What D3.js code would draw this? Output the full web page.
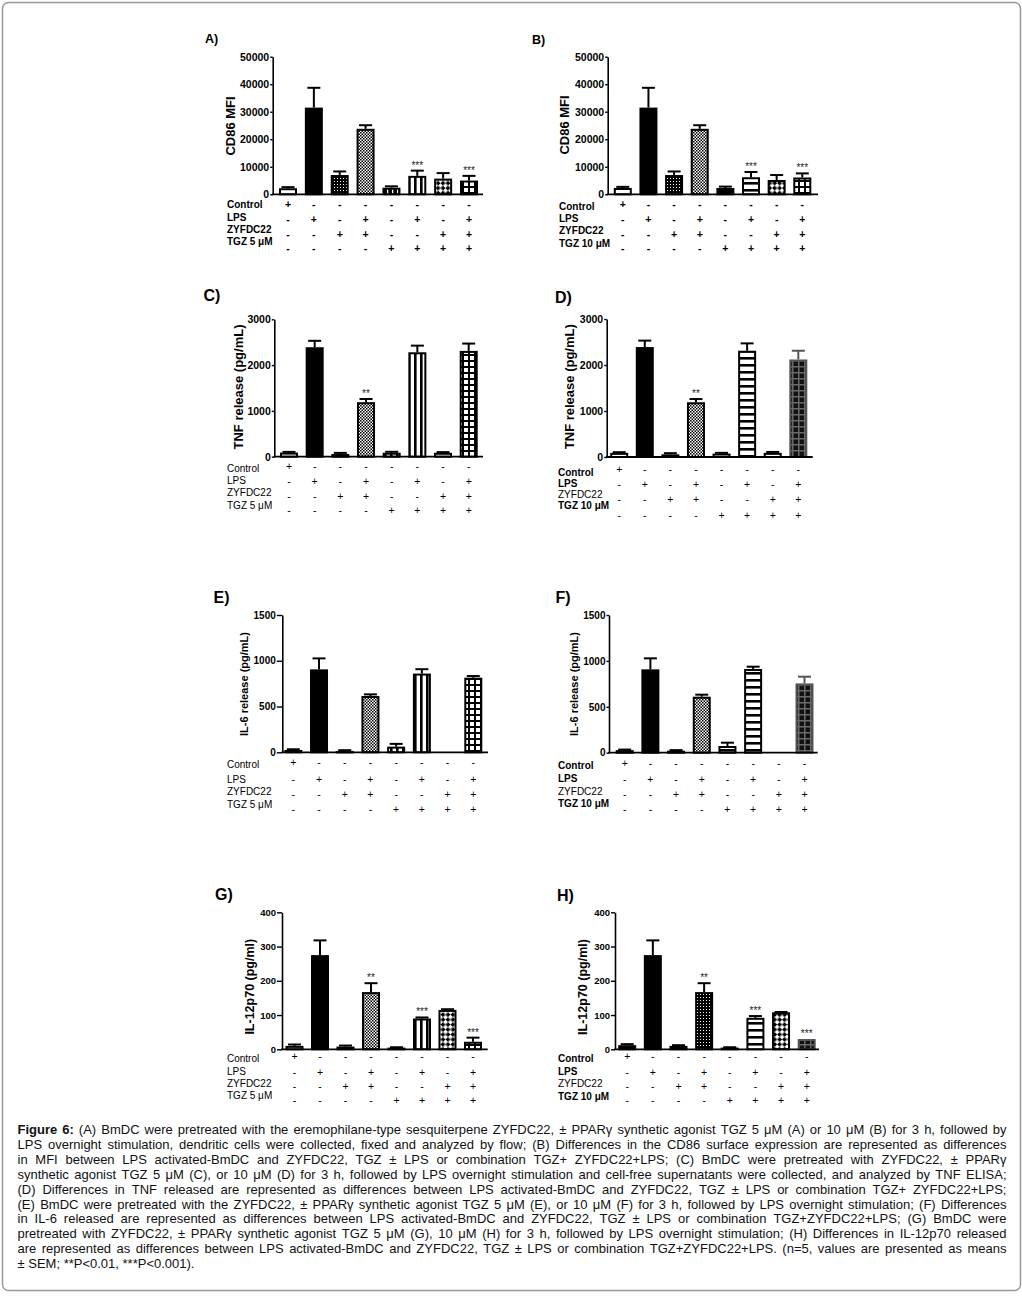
<!DOCTYPE html>
<html><head><meta charset="utf-8">
<script src="https://cdn.jsdelivr.net/npm/d3@7"></script>
<style>
html,body{margin:0;padding:0;background:#fff;}
svg{display:block;font-family:"Liberation Sans",Arial,sans-serif;}
</style></head>
<body>
<svg id="fig" width="1022" height="1297"></svg>
<script>
// ---------------- DATA ----------------
const rowNames = ["Control", "LPS", "ZYFDC22"];
const tgz5Label = "TGZ 5 μM";
const tgz10Label = "TGZ 10 μM";
const signControl = ["+", "-", "-", "-", "-", "-", "-", "-"];
const signLPS     = ["-", "+", "-", "+", "-", "+", "-", "+"];
const signZYFDC   = ["-", "-", "+", "+", "-", "-", "+", "+"];
const signTGZ     = ["-", "-", "-", "-", "+", "+", "+", "+"];

const cd86Ticks = [0, 10000, 20000, 30000, 40000, 50000];
const tnfTicks = [0, 1000, 2000, 3000];
const il6Ticks = [0, 500, 1000, 1500];
const il12Ticks = [0, 100, 200, 300, 400];

const cd86A_mean = [2200, 31500, 7000, 23800, 2400, 6700, 5700, 5000];
const cd86A_sem  = [400, 7200, 1300, 1300, 500, 1900, 2000, 1700];
const cd86A_stars = ["", "", "", "", "", "***", "", "***"];
const cd86B_mean = [2300, 31500, 7000, 23800, 2300, 6200, 5200, 6100];
const cd86B_sem  = [400, 7200, 1300, 1300, 500, 1900, 1800, 1500];
const cd86B_stars = ["", "", "", "", "", "***", "", "***"];

const tnfC_mean = [90, 2390, 58, 1190, 87, 2280, 85, 2310];
const tnfC_sem  = [15, 140, 25, 70, 20, 145, 15, 160];
const tnfC_stars = ["", "", "", "**", "", "", "", ""];
const tnfD_mean = [90, 2390, 58, 1190, 75, 2310, 90, 2120];
const tnfD_sem  = [15, 140, 25, 70, 15, 160, 20, 190];
const tnfD_stars = ["", "", "", "**", "", "", "", ""];

const il6E_mean = [25, 906, 15, 615, 62, 860, 0, 815];
const il6E_sem  = [8, 120, 8, 18, 30, 48, 0, 18];
const il6F_mean = [28, 908, 22, 610, 73, 912, 0, 755];
const il6F_sem  = [6, 120, 6, 22, 36, 25, 0, 73];
const il6_stars = ["", "", "", "", "", "", "", ""];

const il12G_mean = [10, 275, 8, 167, 5, 90, 115, 22];
const il12G_sem  = [4, 43, 3, 26, 1, 3, 2, 12];
const il12H_mean = [12, 275, 10, 167, 5, 92, 108, 30];
const il12H_sem  = [3, 43, 2, 26, 1, 5, 1, 0];
const il12_stars = ["", "", "", "**", "", "***", "", "***"];

const captionLines = [
 "Figure 6: (A) BmDC were pretreated with the eremophilane-type sesquiterpene ZYFDC22, ± PPARγ synthetic agonist TGZ 5 μM (A) or 10 μM (B) for 3 h, followed by",
 "LPS overnight stimulation, dendritic cells were collected, fixed and analyzed by flow; (B) Differences in the CD86 surface expression are represented as differences",
 "in MFI between LPS activated-BmDC and ZYFDC22, TGZ ± LPS or combination TGZ+ ZYFDC22+LPS; (C) BmDC were pretreated with ZYFDC22, ± PPARγ",
 "synthetic agonist TGZ 5 μM (C), or 10 μM (D) for 3 h, followed by LPS overnight stimulation and cell-free supernatants were collected, and analyzed by TNF ELISA;",
 "(D) Differences in TNF released are represented as differences between LPS activated-BmDC and ZYFDC22, TGZ ± LPS or combination TGZ+ ZYFDC22+LPS;",
 "(E) BmDC were pretreated with the ZYFDC22, ± PPARγ synthetic agonist TGZ 5 μM (E), or 10 μM (F) for 3 h, followed by LPS overnight stimulation; (F) Differences",
 "in IL-6 released are represented as differences between LPS activated-BmDC and ZYFDC22, TGZ ± LPS or combination TGZ+ZYFDC22+LPS; (G) BmDC were",
 "pretreated with ZYFDC22, ± PPARγ synthetic agonist TGZ 5 μM (G), 10 μM (H) for 3 h, followed by LPS overnight stimulation; (H) Differences in IL-12p70 released",
 "are represented as differences between LPS activated-BmDC and ZYFDC22, TGZ ± LPS or combination TGZ+ZYFDC22+LPS. (n=5, values are presented as means",
 "± SEM; **P<0.01, ***P<0.001)."
];

// ---------------- STYLE / LAYOUT ----------------
const fillsA = ["white", "black", "dots", "fineCheck", "darkVert", "vStripes", "bigCheck", "grid"];
const fillsB = ["white", "black", "dots", "fineCheck", "black", "hStripes", "bigCheck", "grid"];
const fillsC = ["white", "black", "white", "fineCheck", "vStripes", "vStripes", "white", "grid"];
const fillsD = ["white", "black", "white", "fineCheck", "white", "hStripes", "white", "grayGrid"];
const fillsE = ["white", "black", "black", "fineCheck", "vStripes", "vStripes", "white", "grid"];
const fillsF = ["white", "black", "black", "fineCheck", "hStripes", "hStripes", "white", "grayGrid"];
const fillsG = ["white", "black", "white", "fineCheck", "black", "vStripes", "bigCheck", "grid"];
const fillsH = ["black", "black", "black", "dots", "black", "hStripes", "bigCheck", "grayGrid"];

const panels = [
 {letter:"A)", lx:205, ly:43, ls:12.5, axisX:272.7, y0:194.3, yTop:56.7, axisEnd:483, c1:288, c8:469,
  title:"CD86 MFI", tx:230.5, ty:126, tsz:13, tickSz:10.5, tickLen:2.5, max:50000, ticks:cd86Ticks,
  mean:cd86A_mean, sem:cd86A_sem, stars:cd86A_stars, fills:fillsA, tgz:tgz5Label,
  labX:227, labDy:[10.5,23,35,47.5], sgnDy:[10,25,40,54.5], labW:["bold","bold","bold","bold"], sgnW:"bold"},
 {letter:"B)", lx:532, ly:44, ls:12.5, axisX:607.7, y0:194.3, yTop:56.7, axisEnd:818, c1:622.8, c8:802.3,
  title:"CD86 MFI", tx:564.5, ty:125, tsz:13, tickSz:10.5, tickLen:2.5, max:50000, ticks:cd86Ticks,
  mean:cd86B_mean, sem:cd86B_sem, stars:cd86B_stars, fills:fillsB, tgz:tgz10Label,
  labX:559, labDy:[12.4,24,35.7,48.7], sgnDy:[10,25,40,54], labW:["bold","bold","bold","bold"], sgnW:"bold"},
 {letter:"C)", lx:203.5, ly:301, ls:16, axisX:274.3, y0:456.7, yTop:319.3, axisEnd:483, c1:289, c8:468.7,
  title:"TNF release (pg/mL)", tx:238, ty:387, tsz:13, tickSz:10.5, tickLen:2.5, max:3000, ticks:tnfTicks,
  mean:tnfC_mean, sem:tnfC_sem, stars:tnfC_stars, fills:fillsC, tgz:tgz5Label,
  labX:227, labDy:[11.5,23.5,36,48.5], sgnDy:[10,25,39.5,53.5], labW:["normal","normal","normal","normal"], sgnW:"normal"},
 {letter:"D)", lx:555, ly:302.5, ls:16, axisX:606.7, y0:457, yTop:319, axisEnd:812.7, c1:619.2, c8:798.3,
  title:"TNF release (pg/mL)", tx:569.5, ty:386.7, tsz:13, tickSz:10.5, tickLen:2.5, max:3000, ticks:tnfTicks,
  mean:tnfD_mean, sem:tnfD_sem, stars:tnfD_stars, fills:fillsD, tgz:tgz10Label,
  labX:558, labDy:[15,26.5,37.5,48], sgnDy:[12,27,42,58], labW:["bold","bold","normal","bold"], sgnW:"normal"},
 {letter:"E)", lx:213.5, ly:602.5, ls:16, axisX:282.3, y0:752.3, yTop:615, axisEnd:488, c1:293.3, c8:473.3,
  title:"IL-6 release (pg/mL)", tx:244, ty:684, tsz:11, tickSz:10, tickLen:5.5, max:1500, ticks:il6Ticks,
  mean:il6E_mean, sem:il6E_sem, stars:il6_stars, fills:fillsE, tgz:tgz5Label,
  labX:227, labDy:[12,26.7,39.4,51.7], sgnDy:[10.4,26.7,42,57], labW:["normal","normal","normal","normal"], sgnW:"normal"},
 {letter:"F)", lx:555.5, ly:602.5, ls:16, axisX:609, y0:752.7, yTop:615, axisEnd:817.7, c1:624.7, c8:804.5,
  title:"IL-6 release (pg/mL)", tx:574, ty:684, tsz:11, tickSz:10, tickLen:2.5, max:1500, ticks:il6Ticks,
  mean:il6F_mean, sem:il6F_sem, stars:il6_stars, fills:fillsF, tgz:tgz10Label,
  labX:558, labDy:[12.3,25.6,38.3,50.6], sgnDy:[10.6,26.3,41.3,56.6], labW:["bold","bold","normal","bold"], sgnW:"normal"},
 {letter:"G)", lx:215, ly:900, ls:16, axisX:282, y0:1049.3, yTop:912.3, axisEnd:487.7, c1:294.5, c8:473,
  title:"IL-12p70 (pg/ml)", tx:249.5, ty:986.7, tsz:12.5, tickSz:9.5, tickLen:5, max:400, ticks:il12Ticks,
  mean:il12G_mean, sem:il12G_sem, stars:il12_stars, fills:fillsG, tgz:tgz5Label,
  labX:227, labDy:[9,22.4,34,45.7], sgnDy:[7.4,23,37.4,51.4], labW:["normal","normal","normal","normal"], sgnW:"normal"},
 {letter:"H)", lx:557, ly:900.5, ls:16, axisX:615, y0:1049.3, yTop:912.3, axisEnd:819, c1:627.2, c8:806.7,
  title:"IL-12p70 (pg/ml)", tx:582.5, ty:987, tsz:12.5, tickSz:9.5, tickLen:4, max:400, ticks:il12Ticks,
  mean:il12H_mean, sem:il12H_sem, stars:il12_stars, fills:fillsH, tgz:tgz10Label,
  labX:558, labDy:[9,22.4,34,46.7], sgnDy:[7.4,23,37.4,51.4], labW:["bold","bold","normal","bold"], sgnW:"normal"}
];

// ---------------- DRAW ----------------
const svg = d3.select("#fig");
svg.append("rect").attr("width",1022).attr("height",1297).attr("fill","#fff");
svg.append("rect").attr("x",2.5).attr("y",2.5).attr("width",1018).attr("height",1288)
   .attr("rx",6).attr("fill","none").attr("stroke","#999").attr("stroke-width",1.5);

const defs = svg.append("defs");
function pat(id, w, h, bg, draw, rot) {
  const p = defs.append("pattern").attr("id", id).attr("patternUnits","userSpaceOnUse")
    .attr("width", w).attr("height", h);
  if (rot) p.attr("patternTransform", "rotate(" + rot + ")");
  p.append("rect").attr("width", w).attr("height", h).attr("fill", bg);
  draw(p);
}
pat("dots", 3, 3, "#000", p => p.append("rect").attr("x",1).attr("y",1).attr("width",1).attr("height",1).attr("fill","#fff"));
pat("fineCheck", 3, 3, "#fff", p => { p.append("rect").attr("width",1.5).attr("height",1.5).attr("fill","#000");
  p.append("rect").attr("x",1.5).attr("y",1.5).attr("width",1.5).attr("height",1.5).attr("fill","#000"); });
pat("darkVert", 5, 10, "#000", p => p.append("rect").attr("x",2).attr("width",1.3).attr("height",10).attr("fill","#fff"));
pat("vStripes", 6, 10, "#fff", p => p.append("rect").attr("x",0).attr("width",2.6).attr("height",10).attr("fill","#000"));
pat("hStripes", 10, 7, "#fff", p => p.append("rect").attr("y",0).attr("width",10).attr("height",2.6).attr("fill","#000"));
pat("bigCheck", 7, 7, "#000", p => { p.append("rect").attr("width",3.5).attr("height",3.5).attr("fill","#fff");
  p.append("rect").attr("x",3.5).attr("y",3.5).attr("width",3.5).attr("height",3.5).attr("fill","#fff"); }, 45);
pat("grid", 6, 6, "#000", p => p.append("rect").attr("x",2).attr("y",2).attr("width",4).attr("height",4).attr("fill","#fff"));
pat("grayGrid", 6, 6, "#6a6a6a", p => p.append("rect").attr("x",1.5).attr("y",1.5).attr("width",4.5).attr("height",4.5).attr("fill","#111"));

function fillOf(name) {
  if (name === "white") return "#fff";
  if (name === "black") return "#000";
  return "url(#" + name + ")";
}

const barW = 18;
const signs = [signControl, signLPS, signZYFDC, signTGZ];

panels.forEach(P => {
  const g = svg.append("g");
  const idx = d3.range(P.mean.length);
  const x = d3.scalePoint().domain(idx).range([P.c1, P.c8]);
  const y = d3.scaleLinear().domain([0, P.max]).range([P.y0, P.yTop]);

  // panel letter
  g.append("text").attr("x", P.lx).attr("y", P.ly).attr("font-size", P.ls)
   .attr("font-weight","bold").text(P.letter);

  // y axis
  const ax = g.append("g").attr("transform", "translate(" + P.axisX + ",0)")
    .call(d3.axisLeft(y).tickValues(P.ticks).tickFormat(d3.format("d")).tickSize(P.tickLen).tickSizeOuter(0).tickPadding(1));
  ax.select(".domain").attr("stroke","#000").attr("stroke-width",1.6);
  ax.selectAll(".tick line").attr("stroke","#000").attr("stroke-width",1.4);
  ax.selectAll(".tick text").attr("font-size", P.tickSz).attr("font-weight","bold")
    .attr("font-family","'Liberation Sans',Arial,sans-serif").attr("fill","#000");

  // bars
  idx.forEach(i => {
    const v = P.mean[i];
    if (v <= 0) return;
    const cx = x(i);
    const top = y(v);
    const stroke = P.fills[i] === "grayGrid" ? "#555" : "#000";
    g.append("rect").attr("x", cx - barW/2 + 1).attr("y", top + 1)
      .attr("width", barW - 2).attr("height", Math.max(0.5, P.y0 - top - 1))
      .attr("fill", fillOf(P.fills[i])).attr("stroke", stroke).attr("stroke-width", 2);
    const e = P.sem[i];
    const et = y(v + e);
    if (e > 0) {
      g.append("line").attr("x1", cx).attr("x2", cx).attr("y1", top).attr("y2", et)
        .attr("stroke", stroke).attr("stroke-width", 2);
      g.append("line").attr("x1", cx - 6.5).attr("x2", cx + 6.5).attr("y1", et).attr("y2", et)
        .attr("stroke", stroke).attr("stroke-width", 2);
    }
    if (P.stars[i]) {
      g.append("text").attr("x", cx).attr("y", et - 2).attr("text-anchor","middle")
        .attr("font-size", 10).attr("fill","#222").text(P.stars[i]);
    }
  });

  // x axis line
  g.append("line").attr("x1", P.axisX - 0.8).attr("x2", P.axisEnd).attr("y1", P.y0).attr("y2", P.y0)
    .attr("stroke","#000").attr("stroke-width",1.8);

  // axis title
  g.append("text").attr("transform", "translate(" + P.tx + "," + P.ty + ") rotate(-90)")
    .attr("text-anchor","middle").attr("dy","0.35em").attr("font-size", P.tsz)
    .attr("font-weight","bold").text(P.title);

  // row labels
  const labels = rowNames.concat([P.tgz]);
  labels.forEach((lab, r) => {
    g.append("text").attr("x", P.labX).attr("y", P.y0 + P.labDy[r]).attr("dy","0.35em")
      .attr("font-size", 10).attr("font-weight", P.labW[r]).text(lab);
    idx.forEach(i => {
      g.append("text").attr("x", x(i)).attr("y", P.y0 + P.sgnDy[r]).attr("dy","0.35em")
        .attr("text-anchor","middle").attr("font-size", 10.5).attr("font-weight", P.sgnW)
        .text(signs[r][i]);
    });
  });
});

// ---------------- CAPTION ----------------
const cap = svg.append("g").attr("font-size", 13).attr("fill", "#111");
const x0 = 17.5, x1 = 1006.5, yb = 1134, lh = 14.9;
captionLines.forEach((line, li) => {
  const words = line.split(" ");
  const t = cap.append("text").attr("y", yb + li * lh);
  const spans = words.map((w, j) => t.append("tspan").text(w)
    .attr("font-weight", (li === 0 && j < 2) ? "bold" : null));
  const widths = spans.map(s => s.node().getComputedTextLength());
  const total = d3.sum(widths);
  const last = li === captionLines.length - 1;
  const gap = last ? 3.6 : (x1 - x0 - total) / (words.length - 1);
  let cx = x0;
  spans.forEach((s, j) => { s.attr("x", cx); cx += widths[j] + gap; });
});
</script>
</body></html>
